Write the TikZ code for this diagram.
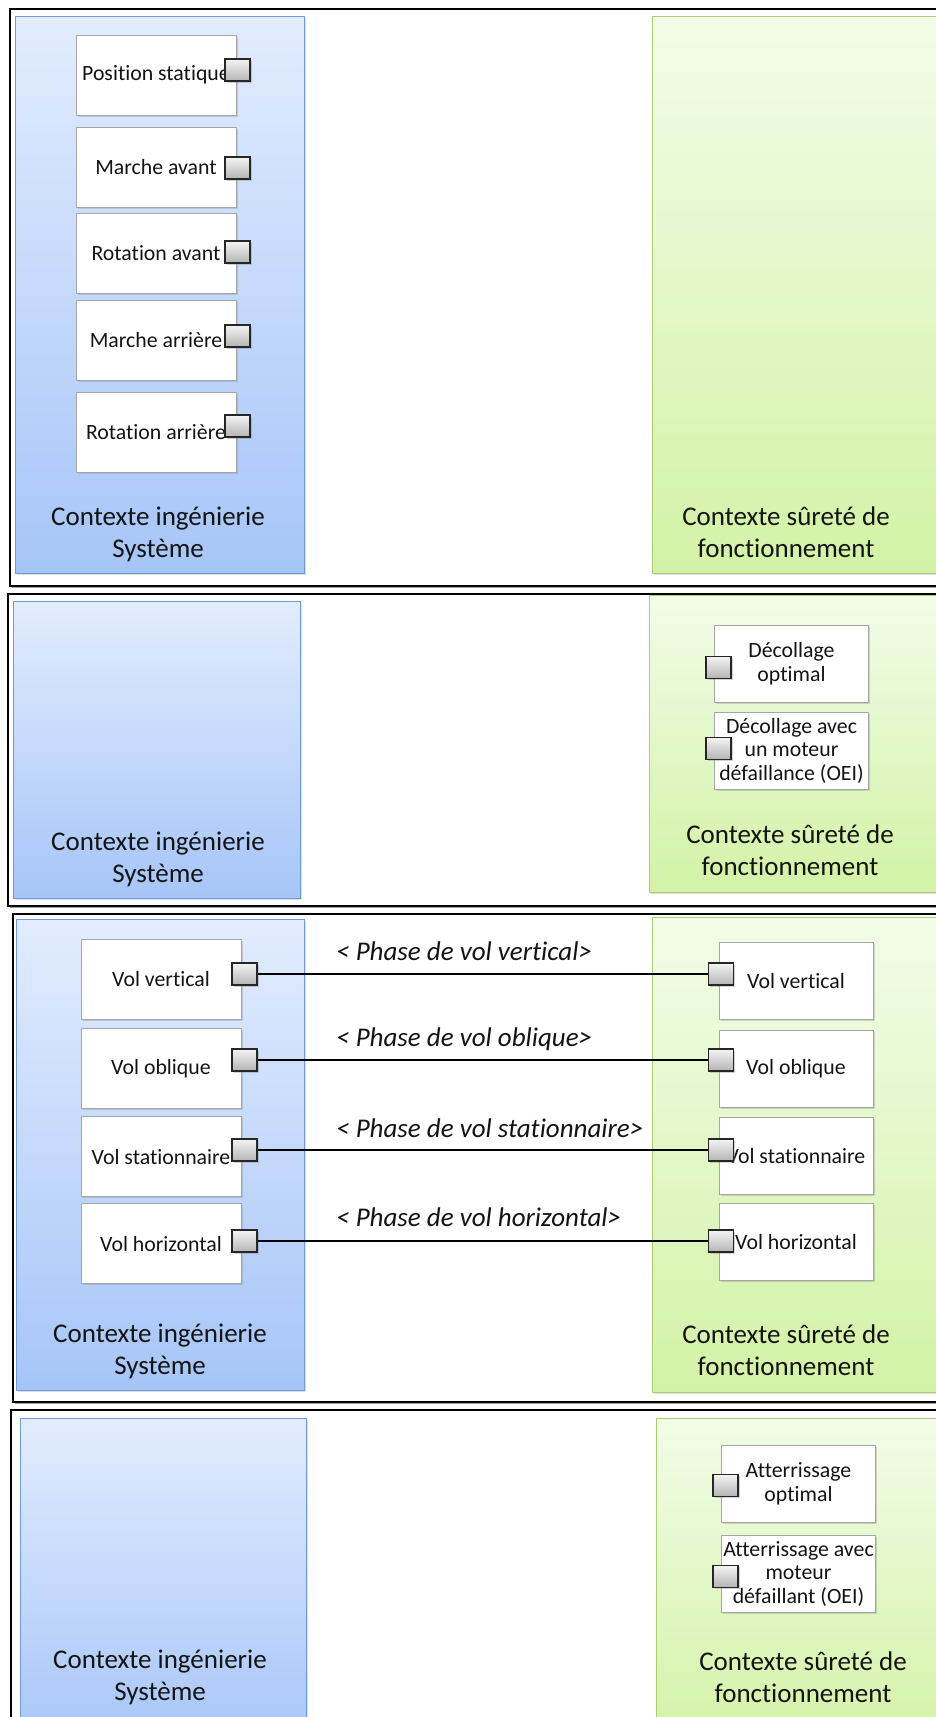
\documentclass[tikz,border=0pt]{standalone}
\usepackage{fontspec}
\setmainfont{Carlito}[Ligatures=NoCommon]
\usetikzlibrary{shadows}
\definecolor{blueTop}{HTML}{E2ECFE}
\definecolor{blueBot}{HTML}{A6C5F8}
\definecolor{blueBorder}{HTML}{6F9CD8}
\definecolor{greenTop}{HTML}{F2FCE8}
\definecolor{greenBot}{HTML}{D3F2A6}
\definecolor{greenBorder}{HTML}{A9CF72}
\definecolor{portTop}{HTML}{F4F4F4}
\definecolor{portBot}{HTML}{B4B4B4}
\definecolor{txt}{HTML}{141414}
\tikzset{
  panelframe/.style={rectangle, draw=black, line width=2.2pt, fill=white, anchor=north west, inner sep=0pt,
    drop shadow={shadow xshift=2pt, shadow yshift=-2pt, fill=black, opacity=0.35}},
  bluebox/.style={rectangle, draw=blueBorder, line width=0.9pt, top color=blueTop, bottom color=blueBot,
    anchor=north west, inner sep=0pt, drop shadow={shadow xshift=2pt, shadow yshift=-2pt, opacity=0.25}},
  greenbox/.style={rectangle, draw=greenBorder, line width=0.9pt, top color=greenTop, bottom color=greenBot,
    anchor=north west, inner sep=0pt, drop shadow={shadow xshift=2pt, shadow yshift=-2pt, opacity=0.25}},
  statebox/.style={rectangle, draw=gray!70, line width=0.8pt, fill=white, inner sep=0pt, align=center,
    text=txt, font=\fontsize{21.8}{23.5}\selectfont,
    drop shadow={shadow xshift=1.5pt, shadow yshift=-1.5pt, opacity=0.3}},
  lwide/.style={statebox, minimum width=160pt, minimum height=80pt},
  rwide/.style={statebox, minimum width=154pt, minimum height=77pt},
  portbox/.style={rectangle, draw=black!85, line width=1.5pt, top color=portTop, bottom color=portBot,
    minimum width=25pt, minimum height=22pt, inner sep=0pt,
    drop shadow={shadow xshift=1.5pt, shadow yshift=-1.5pt, opacity=0.35}},
  ctxlabel/.style={align=center, text=txt, font=\fontsize{27}{32}\selectfont, inner sep=0pt},
  phaselabel/.style={anchor=west, text=txt, font=\fontsize{27}{32}\selectfont\itshape, inner sep=0pt},
  link/.style={draw=black, line width=2.8pt}
}
\begin{document}
\begin{tikzpicture}[x=1pt, y=-1pt]
\useasboundingbox (0,0) rectangle (936,1717);
\clip (0,0) rectangle (936,1717);
\fill[white] (0,0) rectangle (936,1717);

% ---------- frames ----------
\node[panelframe, minimum width=960pt, minimum height=577pt] (f1) at (9,8) {};
\node[panelframe, minimum width=960pt, minimum height=312pt] (f2) at (7,593) {};
\node[panelframe, minimum width=960pt, minimum height=488pt] (f3) at (12,913) {};
\node[panelframe, minimum width=960pt, minimum height=340pt] (f4) at (10,1409) {};

% ---------- context containers ----------
\node[bluebox, minimum width=289pt, minimum height=557pt] (b1) at (15,16) {};
\node[greenbox, minimum width=320pt, minimum height=557pt] (g1) at (652,16) {};
\node[bluebox, minimum width=287pt, minimum height=297pt] (b2) at (13,601) {};
\node[greenbox, minimum width=320pt, minimum height=297pt] (g2) at (649,595) {};
\node[bluebox, minimum width=288pt, minimum height=471pt] (b3) at (16,919) {};
\node[greenbox, minimum width=320pt, minimum height=475pt] (g3) at (652,917) {};
\node[bluebox, minimum width=286pt, minimum height=330pt] (b4) at (20,1418) {};
\node[greenbox, minimum width=320pt, minimum height=330pt] (g4) at (656,1418) {};

\node[ctxlabel] (b1t) at (158,534) {Contexte ingénierie\\Système};
\node[ctxlabel] (g1t) at (786,532) {Contexte sûreté de\\fonctionnement};
\node[ctxlabel] (b2t) at (158,859) {Contexte ingénierie\\Système};
\node[ctxlabel] (g2t) at (790,850) {Contexte sûreté de\\fonctionnement};
\node[ctxlabel] (b3t) at (160,1351) {Contexte ingénierie\\Système};
\node[ctxlabel] (g3t) at (786,1350) {Contexte sûreté de\\fonctionnement};
\node[ctxlabel] (b4t) at (160,1677) {Contexte ingénierie\\Système};
\node[ctxlabel] (g4t) at (803,1677) {Contexte sûreté de\\fonctionnement};

% ---------- panel 1 ----------
\node[lwide] (s1) at (156,75) {Position statique};
\node[lwide] (s2) at (156,167) {Marche avant};
\node[lwide] (s3) at (156,253) {Rotation avant};
\node[lwide] (s4) at (156,340.5) {Marche arrière};
\node[lwide] (s5) at (156,432) {Rotation arrière};
\node[portbox] (p1) at (237.5,70) {};
\node[portbox] (p2) at (237.5,168) {};
\node[portbox] (p3) at (237.5,252) {};
\node[portbox] (p4) at (237.5,336) {};
\node[portbox] (p5) at (237.5,426) {};

% ---------- panel 2 ----------
\node[rwide] (d1) at (791.5,663.5) {Décollage\\optimal};
\node[rwide] (d2) at (791.5,750.5) {Décollage avec\\un moteur\\défaillance (OEI)};
\node[portbox] (dp1) at (718.5,667.5) {};
\node[portbox] (dp2) at (718.5,748.5) {};

% ---------- panel 3 ----------
\node[lwide] (l1) at (161,979) {Vol vertical};
\node[lwide] (l2) at (161,1068.5) {Vol oblique};
\node[lwide] (l3) at (161,1156.5) {Vol stationnaire};
\node[lwide] (l4) at (161,1243.5) {Vol horizontal};
\node[rwide] (r1) at (796,980.5) {Vol vertical};
\node[rwide] (r2) at (796,1068.5) {Vol oblique};
\node[rwide] (r3) at (796,1156) {Vol stationnaire};
\node[rwide] (r4) at (796,1242) {Vol horizontal};

\node[phaselabel] (ph1) at (336,951) {< Phase de vol vertical>};
\node[phaselabel] (ph2) at (336,1039) {< Phase de vol oblique>};
\node[phaselabel] (ph3) at (336,1128) {< Phase de vol stationnaire>};
\node[phaselabel] (ph4) at (336,1217) {< Phase de vol horizontal>};

\node[portbox] (lp1) at (244.5,974) {};
\node[portbox] (lp2) at (244.5,1060) {};
\node[portbox] (lp3) at (244.5,1150) {};
\node[portbox] (lp4) at (244.5,1241) {};
\node[portbox] (rp1) at (721,974) {};
\node[portbox] (rp2) at (721,1060) {};
\node[portbox] (rp3) at (721,1150) {};
\node[portbox] (rp4) at (721,1241) {};

\draw[link] (lp1.east) -- (rp1.west);
\draw[link] (lp2.east) -- (rp2.west);
\draw[link] (lp3.east) -- (rp3.west);
\draw[link] (lp4.east) -- (rp4.west);

% ---------- panel 4 ----------
\node[rwide] (a1) at (798.5,1483.5) {Atterrissage\\optimal};
\node[rwide] (a2) at (798.5,1573.5) {Atterrissage avec\\moteur\\défaillant (OEI)};
\node[portbox] (ap1) at (725.5,1485.5) {};
\node[portbox] (ap2) at (725.5,1576.5) {};
\end{tikzpicture}
\end{document}
